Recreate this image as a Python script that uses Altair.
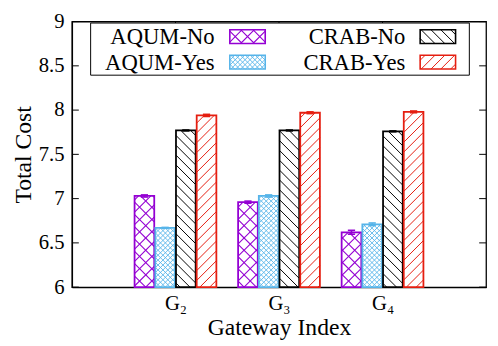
import math
import altair as alt
import pandas as pd

# ---- data ----
gateways = ["G₂", "G₃", "G₄"]
series = ["AQUM-No", "AQUM-Yes", "CRAB-No", "CRAB-Yes"]
aqum_no = [7.03, 6.96, 6.62]
aqum_yes = [6.67, 7.03, 6.71]
crab_no = [7.77, 7.77, 7.76]
crab_yes = [7.94, 7.97, 7.98]
aqum_no_err = [0.012, 0.012, 0.022]
aqum_yes_err = [0.005, 0.012, 0.015]
crab_no_err = [0.005, 0.005, 0.005]
crab_yes_err = [0.012, 0.01, 0.01]
y_ticks = [6, 6.5, 7, 7.5, 8, 8.5, 9]

values = [aqum_no, aqum_yes, crab_no, crab_yes]
errors = [aqum_no_err, aqum_yes_err, crab_no_err, crab_yes_err]

# ---- styles ----
colors = ["#9400d3", "#56b4e9", "#000000", "#e51e10"]
# (hatch directions, vertical period in px, line width)
patterns = [((1, -1), 12.5, 1.1), ((1, -1), 5.0, 0.9), ((-1,), 10.0, 1.0), ((1,), 10.0, 1.0)]
FONT = "Liberation Serif"

W, H = 421, 270
XD = [0, 4]
YD = [6, 9]
sx = W / (XD[1] - XD[0])
sy = H / (YD[1] - YD[0])
BW = 0.19
GAP = 0.2


def hatch_segments(x0, x1, y0, y1, d, p):
    segs = []
    if d == 1:
        cmin, cmax = y0 - x1, y1 - x0
    else:
        cmin, cmax = y0 + x0, y1 + x1
    k = math.ceil(cmin / p)
    while k * p <= cmax:
        c = k * p
        if d == 1:
            a, b = max(x0, y0 - c), min(x1, y1 - c)
        else:
            a, b = max(x0, c - y1), min(x1, c - y0)
        if b - a > 0.3:
            segs.append((a, d * a + c, b, d * b + c))
        k += 1
    return segs


bar_rows, hatch_rows, err_rows = [], [], []
for gi, g in enumerate(gateways):
    for si, s in enumerate(series):
        xc = gi + 1 + (si - 1.5) * GAP
        v = values[si][gi]
        e = errors[si][gi]
        bar_rows.append({"series": s, "x0": xc - BW / 2, "x1": xc + BW / 2, "v": v, "base": YD[0]})
        px0, px1 = (xc - BW / 2) * sx, (xc + BW / 2) * sx
        py0, py1 = 0.0, (v - YD[0]) * sy
        dirs, per, lw = patterns[si]
        for d in dirs:
            for (a, ya, b, yb) in hatch_segments(px0, px1, py0, py1, d, per):
                hatch_rows.append({"series": s, "x0": a / sx, "x1": b / sx,
                                   "v": YD[0] + ya / sy, "v2": YD[0] + yb / sy, "sw": lw})
        err_rows.append({"series": s, "x0": xc, "v": v - e, "v2": v + e,
                         "cx0": xc - 0.035, "cx1": xc + 0.035})

bars = pd.DataFrame(bar_rows)
hatch_df = pd.DataFrame(hatch_rows)
err_df = pd.DataFrame(err_rows)
ytick_df = pd.DataFrame({"v": y_ticks})
xtick_df = pd.DataFrame({"x0": list(range(1, len(gateways) + 1))})
one = pd.DataFrame({"a": [0]})

xs = alt.Scale(domain=XD, nice=False, zero=False)
ys = alt.Scale(domain=YD, nice=False, zero=False)
cscale = alt.Scale(domain=series, range=colors)
color = alt.Color("series:N", scale=cscale, legend=None)

label_expr = "[''," + ",".join("'%s'" % g for g in gateways) + "][datum.value]"

x_axis = alt.Axis(values=[1, 2, 3], labelExpr=label_expr, ticks=False, grid=False,
                  domainColor="black", domainWidth=1.3,
                  labelFont=FONT, labelFontSize=21, labelColor="black", labelPadding=6,
                  title="Gateway Index", titleFont=FONT, titleFontSize=24,
                  titleFontWeight="normal", titleColor="black",
                  titleX=W / 2, titleY=48, titleBaseline="alphabetic", titleAlign="center")
y_axis = alt.Axis(values=y_ticks, format="~g", ticks=False, grid=False,
                  domainColor="black", domainWidth=1.3,
                  labelFont=FONT, labelFontSize=21, labelColor="black", labelPadding=8,
                  title="Total Cost", titleFont=FONT, titleFontSize=24,
                  titleFontWeight="normal", titleColor="black",
                  titleX=-49, titleY=H / 2, titleAngle=270, titleBaseline="middle",
                  titleAlign="center")


def X(field):
    return alt.X(field, scale=xs, axis=x_axis, title="Gateway Index")


def Y(field):
    return alt.Y(field, scale=ys, axis=y_axis, title="Total Cost")


bar_fill = alt.Chart(bars).mark_rect(fill="white", strokeWidth=0).encode(
    x=X("x0:Q"), x2="x1:Q", y=Y("v:Q"), y2="base:Q",
)

hatch_layer = alt.Chart(hatch_df).mark_rule().encode(
    x=X("x0:Q"), x2="x1:Q", y=Y("v:Q"), y2="v2:Q",
    color=color,
    strokeWidth=alt.StrokeWidth("sw:Q", scale=None),
)

bar_outline = alt.Chart(bars).mark_rect(fillOpacity=0, strokeWidth=1.8).encode(
    x=X("x0:Q"), x2="x1:Q", y=Y("v:Q"), y2="base:Q",
    stroke=alt.Stroke("series:N", scale=cscale, legend=None),
)

err_v = alt.Chart(err_df).mark_rule(strokeWidth=1.6).encode(
    x=X("x0:Q"), y=Y("v:Q"), y2="v2:Q", color=color,
)
err_top = alt.Chart(err_df).mark_rule(strokeWidth=1.6).encode(
    x=X("cx0:Q"), x2="cx1:Q", y=Y("v2:Q"), color=color,
)
err_bot = alt.Chart(err_df).mark_rule(strokeWidth=1.6).encode(
    x=X("cx0:Q"), x2="cx1:Q", y=Y("v:Q"), color=color,
)

tick_l = alt.Chart(ytick_df).mark_rule(color="black", strokeWidth=1).encode(
    y=Y("v:Q"), x=alt.value(0), x2=alt.value(7))
tick_r = alt.Chart(ytick_df).mark_rule(color="black", strokeWidth=1).encode(
    y=Y("v:Q"), x=alt.value(W - 7), x2=alt.value(W))
tick_t = alt.Chart(xtick_df).mark_rule(color="black", strokeWidth=1).encode(
    x=X("x0:Q"), y=alt.value(0), y2=alt.value(7))
tick_b = alt.Chart(xtick_df).mark_rule(color="black", strokeWidth=1).encode(
    x=X("x0:Q"), y=alt.value(H - 7), y2=alt.value(H))

# ---- legend (drawn by hand so swatches can carry the hatch) ----
SW_HW, SW_HH = 18.0, 7.0


def swatch_path(si):
    dirs, per, lw = patterns[si]
    parts = []
    for d in dirs:
        for (a, ya, b, yb) in hatch_segments(-SW_HW, SW_HW, -SW_HH, SW_HH, d, per):
            parts.append("M%.3f,%.3fL%.3f,%.3f" % (a / SW_HW, -ya / SW_HW, b / SW_HW, -yb / SW_HW))
    return "".join(parts)


box_h = SW_HH / SW_HW
outline_path = "M-1,%.3fL1,%.3fL1,%.3fL-1,%.3fZ" % (-box_h, -box_h, box_h, box_h)

legend_box = alt.Chart(one).mark_rect(fill="white", stroke="black", strokeWidth=1).encode(
    x=alt.value(19), x2=alt.value(404), y=alt.value(1.5), y2=alt.value(54.5))

legend_layers = [legend_box]
text_x = [145, 145, 339, 339]
sw_x = [178.5, 178.5, 372, 372]
row_base = [23, 49.6, 23, 49.6]
sw_y = [15.3, 41.3, 15.3, 41.3]
for si, s in enumerate(series):
    legend_layers.append(alt.Chart(one).mark_text(
        align="right", baseline="alphabetic", font=FONT, fontSize=23, color="black").encode(
        x=alt.value(text_x[si]), y=alt.value(row_base[si]), text=alt.value(s)))
    legend_layers.append(alt.Chart(one).mark_point(
        shape=swatch_path(si), size=(2 * SW_HW) ** 2, filled=False, color=colors[si],
        opacity=1, strokeWidth=patterns[si][2]).encode(
        x=alt.value(sw_x[si]), y=alt.value(sw_y[si])))
    legend_layers.append(alt.Chart(one).mark_point(
        shape=outline_path, size=(2 * SW_HW) ** 2, filled=False, color=colors[si],
        opacity=1, strokeWidth=1.6).encode(
        x=alt.value(sw_x[si]), y=alt.value(sw_y[si])))

chart = alt.layer(
    bar_fill, tick_b, hatch_layer, bar_outline, err_v, err_top, err_bot,
    tick_l, tick_r, tick_t, *legend_layers
).properties(
    width=W, height=H,
    padding={"left": 65, "top": 11, "right": 4, "bottom": 55},
    autosize=alt.AutoSizeParams(type="none"),
).configure(
    background="white",
    font=FONT,
    view=alt.ViewConfig(stroke="black", strokeWidth=1.3),
    axis=alt.AxisConfig(labelFont=FONT, titleFont=FONT),
)

chart.save("out.html", embed_options={"renderer": "svg", "actions": False})
